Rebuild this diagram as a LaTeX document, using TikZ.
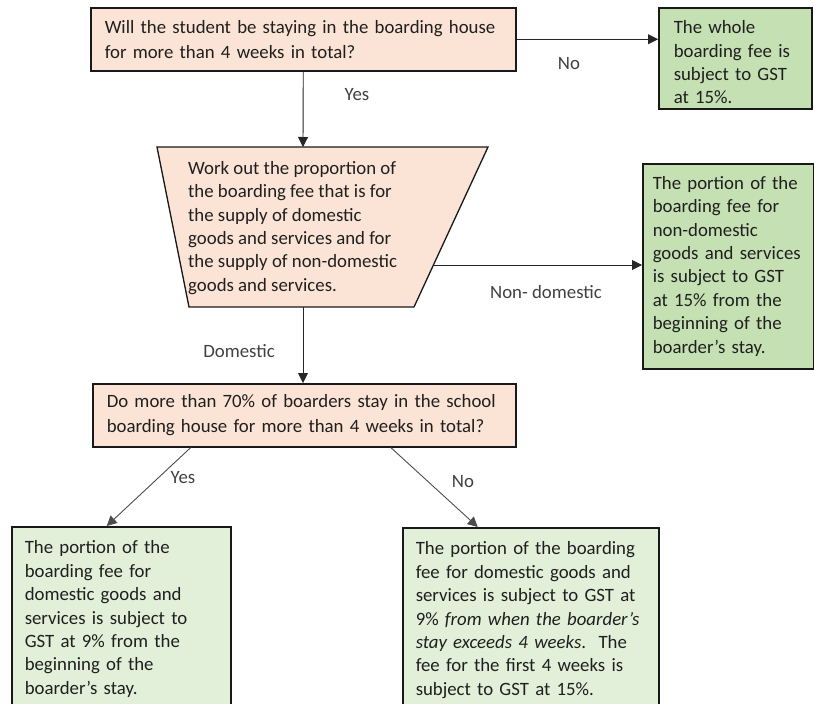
\documentclass[tikz,border=0pt]{standalone}
\usepackage{fontspec}
\setmainfont{Carlito}
\usetikzlibrary{arrows.meta,positioning}
\definecolor{peach}{HTML}{FBE4D5}
\definecolor{gstgreen}{HTML}{C5E0B3}
\definecolor{lightgreen}{HTML}{E2EFD9}
\hyphenpenalty=10000

\begin{document}
\begin{tikzpicture}[x=1pt, y=-1pt,
  box/.style={draw=black!90, line width=1.5pt, align=left, anchor=north west, inner xsep=15pt, text=black!88, font=\fontsize{18.8}{23.4}\selectfont},
  question/.style={box, fill=peach, font=\fontsize{18.8}{25}\selectfont},
  result/.style={box, fill=gstgreen},
  partial/.style={box, fill=lightgreen, inner xsep=13pt, inner ysep=14pt, text depth=200pt},
  arrow/.style={-{Triangle[length=10pt, width=10pt]}, line width=0.9pt, draw=black!85},
  answer/.style={font=\fontsize{18.8}{23.4}\selectfont, text=black!75, inner sep=0pt}
]
\path[use as bounding box] (0,0) rectangle (814,704);
\clip (0,0) rectangle (814,704);

\node[question, text width=397pt, inner xsep=14pt, minimum height=63pt] (stay) at (90,7) {Will the student be staying in the boarding house\\for more than 4 weeks in total?};
\node[result, text width=123pt, inner ysep=0pt, text height=26pt, text depth=75pt] (whole) at (658,7) {The whole\\boarding fee is\\subject to GST\\at 15\%.};

% trapezoid for the split of the fee
\coordinate (tl) at (157,147);
\coordinate (tr) at (488,147);
\coordinate (br) at (414,307);
\coordinate (bl) at (189,307);
\draw[line width=1.3pt, draw=black!90, fill=peach] (tl) -- (tr) -- (br) -- (bl) -- cycle;
\coordinate (trapTop) at (303,147);
\coordinate (trapBot) at (303,307);
\coordinate (trapRight) at (433,265);
\node[anchor=north west, inner sep=0pt, align=left, text=black!88, font=\fontsize{18.8}{23.4}\selectfont] (work) at (188,161) {Work out the proportion of\\the boarding fee that is for\\the supply of domestic\\goods and services and for\\the supply of non-domestic\\goods and services.};

\node[result, inner xsep=10pt, text width=151pt, minimum height=205pt] (nondom) at (642,163) {The portion of the\\boarding fee for\\non-domestic\\goods and services\\is subject to GST\\at 15\% from the\\beginning of the\\boarder’s stay.};
\node[question, text width=395pt, inner xsep=14pt, minimum height=63pt] (share) at (92,383) {Do more than 70\% of boarders stay in the school\\boarding house for more than 4 weeks in total?};
\node[partial, text width=193pt] (domfee) at (11,526) {The portion of the\\boarding fee for\\domestic goods and\\services is subject to\\GST at 9\% from the\\beginning of the\\boarder’s stay.};
\node[partial, text width=230pt] (partfee) at (402,527) {The portion of the boarding\\fee for domestic goods and\\services is subject to GST at\\9\% \textit{from when the boarder’s}\\\textit{stay exceeds 4 weeks}.\ \ The\\fee for the first 4 weeks is\\subject to GST at 15\%.};

\draw[arrow] (stay.east) -- (stay.east -| whole.west);
\draw[arrow] (stay.south) -- (trapTop);
\draw[arrow] (trapRight) -- (trapRight -| nondom.west);
\draw[arrow] (trapBot) -- (trapBot |- share.north);
\draw[arrow, draw=black!70] ([xshift=-113.5pt]share.south) -- ([xshift=-14.5pt]domfee.north);
\draw[arrow, draw=black!70] ([xshift=86.5pt]share.south) -- ([xshift=-53pt]partfee.north);

\node[answer] (yesA) at (357,95) {Yes};
\node[answer] (noA) at (569,64) {No};
\node[answer] (nondomLbl) at (546,292) {Non- domestic};
\node[answer] (domLbl) at (239,351) {Domestic};
\node[answer] (yesB) at (183,478) {Yes};
\node[answer] (noB) at (463,482) {No};
\end{tikzpicture}
\end{document}
